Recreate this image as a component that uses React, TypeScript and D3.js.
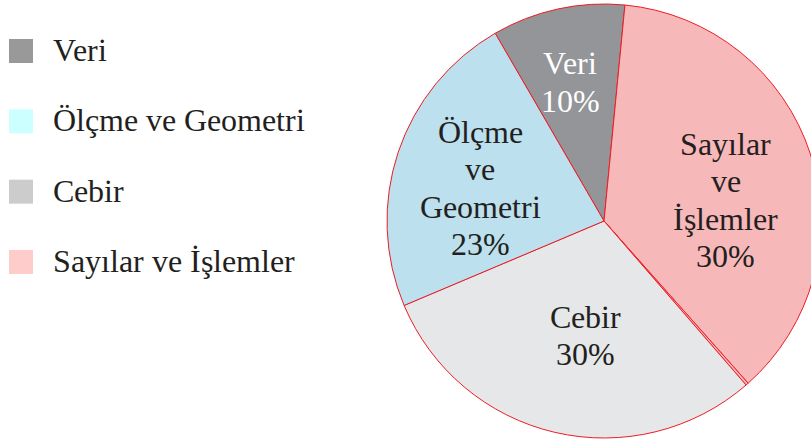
import React from "react";
import * as d3 from "d3";

// Data
const categories = ["Veri", "Sayılar ve İşlemler", "", "Cebir", "Ölçme ve Geometri"];
// drawn shares of the full circle (as measured on the picture)
const drawnShares = [9.9, 36.9, 0.2, 30.0, 23.0];
const sliceLabels = [["Veri", "10%"], ["Sayılar", "ve", "İşlemler", "30%"], [], ["Cebir", "30%"], ["Ölçme", "ve", "Geometri", "23%"]];
const legendItems = ["Veri", "Ölçme ve Geometri", "Cebir", "Sayılar ve İşlemler"];

// Styles / layout
const sliceColors = ["#939598", "#f7b8b9", "#f7b8b9", "#e6e7e8", "#bce0ee"];
const labelColors = ["#ffffff", "#231f20", "#231f20", "#231f20", "#231f20"];
const legendColors = ["#999999", "#ccffff", "#cccccc", "#ffcccc"];
const labelPolar = [[-13.8, 142], [80.7, 123.6], [0, 0], [189.3, 117], [-75.5, 128]];
const W = 811, H = 443;
const CX = 604, CY = 221, R = 217;
const START_DEG = -30.1;
const FS = 31.5;
const FONT = '"ChartSerif", "Liberation Serif", "FreeSerif", "Times New Roman"';

const fontCss = `
@font-face { font-family: "ChartSerif"; src: local("Liberation Serif"), local("LiberationSerif"), local("LiberationSerif-Regular"), local("FreeSerif"); }
`;

export default function App() {
  const pie = d3
    .pie<number>()
    .sort(null)
    .startAngle((START_DEG * Math.PI) / 180)
    .endAngle((START_DEG * Math.PI) / 180 + 2 * Math.PI)
    .value((d) => d);
  const arcs = pie(drawnShares);
  const arc = d3.arc<d3.PieArcDatum<number>>().innerRadius(0).outerRadius(R);

  const legendY = d3.scalePoint<string>().domain(legendItems).range([51, 262]);
  const lh = 37.5;

  const labelTexts: React.ReactNode[] = [];
  arcs.forEach((a, i) => {
    const lines = sliceLabels[i];
    if (!lines.length) return;
    const [deg, r] = labelPolar[i];
    const t = (deg * Math.PI) / 180;
    const x = CX + r * Math.sin(t);
    const y = CY - r * Math.cos(t);
    const first = y - ((lines.length - 1) * lh) / 2 + 10;
    lines.forEach((ln, k) => {
      labelTexts.push(
        <text key={`l${i}-${k}`} x={x} y={first + k * lh} textAnchor="middle" fontSize={FS} fill={labelColors[i]} style={{ fontFamily: FONT }}>
          {ln}
        </text>
      );
    });
  });

  return (
    <>
      <style>{fontCss}</style>
      <svg width={W} height={H} style={{ position: "absolute", left: 0, top: 0 }}>
        <rect width={W} height={H} fill="#ffffff" />
        <g transform={`translate(${CX},${CY})`}>
          {arcs.map((a, i) => (
            <path key={i} d={arc(a) || ""} fill={sliceColors[i]} stroke="#ed1c24" strokeWidth={1} strokeLinejoin="round" />
          ))}
        </g>
        {labelTexts}
        {legendItems.map((name, i) => (
          <rect key={"r" + name} x={9} y={(legendY(name) as number) - 12} width={24} height={24} fill={legendColors[i]} />
        ))}
        {legendItems.map((name) => (
          <text key={"t" + name} x={53} y={(legendY(name) as number) + 10} fontSize={FS} fill="#231f20" style={{ fontFamily: FONT }}>
            {name}
          </text>
        ))}
      </svg>
    </>
  );
}
